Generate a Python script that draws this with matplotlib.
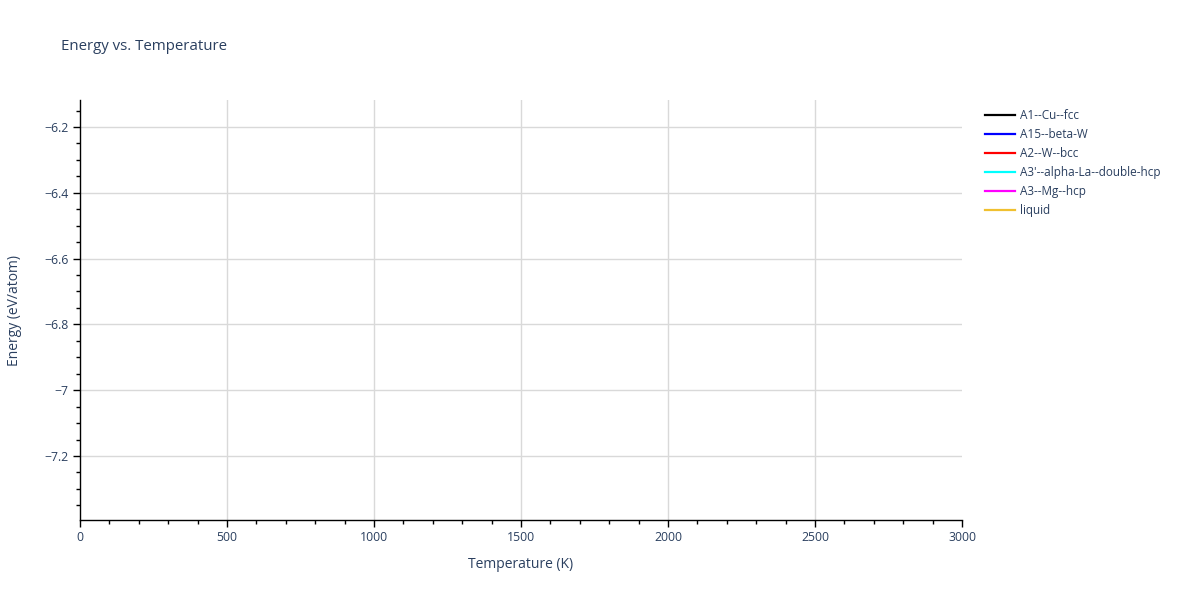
import matplotlib.pyplot as plt
from matplotlib.ticker import MultipleLocator, FuncFormatter

plt.rcParams['font.family'] = ['Open Sans', 'DejaVu Sans']

# phases in the legend; the reference draws no points for any of them
phases = ["A1--Cu--fcc", "A15--beta-W", "A2--W--bcc",
          "A3'--alpha-La--double-hcp", "A3--Mg--hcp", "liquid"]
colors = ["black", "blue", "red", "cyan", "magenta", "#f0c030"]
temps = [[], [], [], [], [], []]
energies = [[], [], [], [], [], []]

txt = "#2a3f5f"
grid_c = "#d9d9d9"

fig = plt.figure(figsize=(12, 6), dpi=100)
ax = fig.add_axes([80/1200, 80/600, 882/1200, 420/600])

for name, col, t, e in zip(phases, colors, temps, energies):
    ax.plot(t, e, color=col, lw=1.6, label=name)

ax.set_xlim(0, 3000)
ax.set_ylim(-7.3945, -6.118)

ax.xaxis.set_major_locator(MultipleLocator(500))
ax.xaxis.set_minor_locator(MultipleLocator(100))
ax.yaxis.set_major_locator(MultipleLocator(0.2))
ax.yaxis.set_minor_locator(MultipleLocator(0.05))

fmt = FuncFormatter(lambda v, p: ("%g" % round(v, 3)).replace("-", "\u2212"))
ax.yaxis.set_major_formatter(fmt)

# horizontal grid from the locator, vertical grid only inside the plot area
ax.grid(True, axis="y", which="major", color=grid_c, lw=1)
for xv in ax.get_xticks():
    if 0 < xv < 3000:
        ax.axvline(xv, color=grid_c, lw=1, zorder=0)
ax.set_axisbelow(True)
for s in ["top", "right"]:
    ax.spines[s].set_visible(False)
for s in ["left", "bottom"]:
    ax.spines[s].set_color("black")
    ax.spines[s].set_linewidth(1)

ax.tick_params(which="major", direction="out", length=5, width=1, color="black",
               labelcolor=txt, labelsize=8.8, pad=3)
ax.tick_params(which="minor", direction="out", length=3, width=1, color="black")

ax.set_xlabel("Temperature (K)", color=txt, fontsize=10, labelpad=9)
ax.set_ylabel("Energy (eV/atom)", color=txt, fontsize=10, labelpad=16)

fig.text(61/1200, 1 - 46.5/600, "Energy vs. Temperature", color=txt, fontsize=10.8,
         va="center", ha="left")

fig.legend(loc="upper left", bbox_to_anchor=(980/1200, 1 - 104/600), frameon=False,
           fontsize=8.5, labelcolor=txt, handlelength=2.55, handletextpad=0.42,
           labelspacing=0.52, borderaxespad=0)

fig.savefig("out.png", dpi=100)
